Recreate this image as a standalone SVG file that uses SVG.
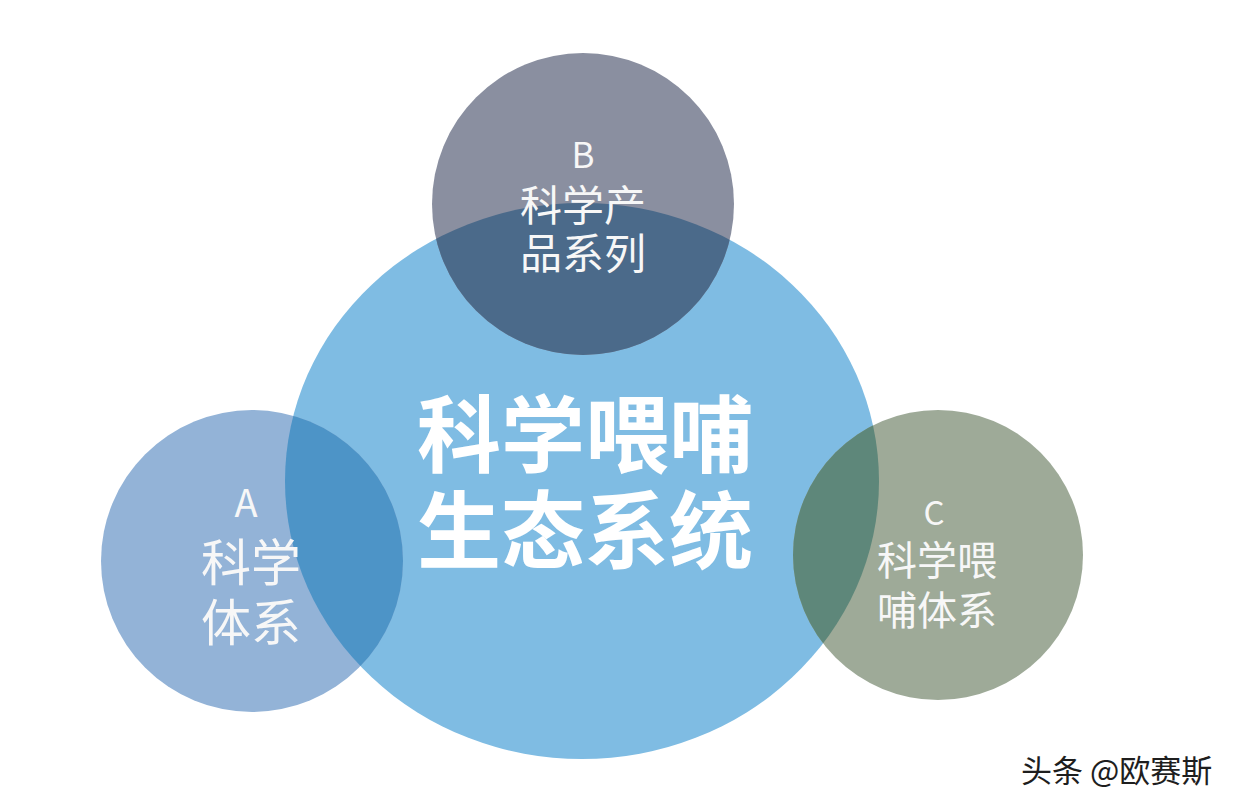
<svg xmlns="http://www.w3.org/2000/svg" width="1240" height="812" viewBox="0 0 1240 812">
  <style>
    .cjk { font-family: "Noto Sans CJK SC", "Noto Sans", sans-serif; text-anchor: middle; }
    .lbl { fill: #F7F7F7; }
    .title { fill: #FFFFFF; font-weight: 700; }
    .mark { font-family: "Noto Sans CJK SC", "Noto Sans", sans-serif; fill: #1E1E1E; }
  </style>
  <defs>
    <clipPath id="bigClip">
      <ellipse cx="582" cy="481" rx="297" ry="278"/>
    </clipPath>
  </defs>
  <rect width="1240" height="812" fill="#FFFFFF"/>

  <g id="center">
    <ellipse cx="582" cy="481" rx="297" ry="278" fill="#7FBCE3"/>
  </g>

  <g id="nodeA">
    <circle cx="252" cy="561" r="151" fill="#93B3D7"/>
    <circle cx="252" cy="561" r="151" fill="#4D94C7" clip-path="url(#bigClip)"/>
  </g>
  <g id="nodeB">
    <circle cx="583" cy="204" r="151" fill="#8A8FA0"/>
    <circle cx="583" cy="204" r="151" fill="#4B6A8A" clip-path="url(#bigClip)"/>
  </g>
  <g id="nodeC">
    <circle cx="938" cy="555" r="145" fill="#9EAA98"/>
    <circle cx="938" cy="555" r="145" fill="#5E877A" clip-path="url(#bigClip)"/>
  </g>

  <g id="connectors"></g>

  <g id="labels">
    <text id="titleText" class="cjk title" font-size="84"><tspan x="585" y="466">科学喂哺</tspan><tspan x="585" y="562">生态系统</tspan></text>
    <text id="labelA" class="cjk lbl" font-size="50"><tspan x="246" y="517" font-size="38">A</tspan><tspan x="251" y="581">科学</tspan><tspan x="251" y="641">体系</tspan></text>
    <text id="labelB" class="cjk lbl" font-size="42"><tspan x="583" y="168" font-size="35">B</tspan><tspan x="583" y="221">科学产</tspan><tspan x="583" y="269">品系列</tspan></text>
    <text id="labelC" class="cjk lbl" font-size="40"><tspan x="934" y="525" font-size="33">C</tspan><tspan x="937" y="575">科学喂</tspan><tspan x="937" y="625">哺体系</tspan></text>
  </g>

  <g id="watermark">
    <text class="mark" x="1021" y="782" font-size="31">头条 @欧赛斯</text>
  </g>
</svg>
